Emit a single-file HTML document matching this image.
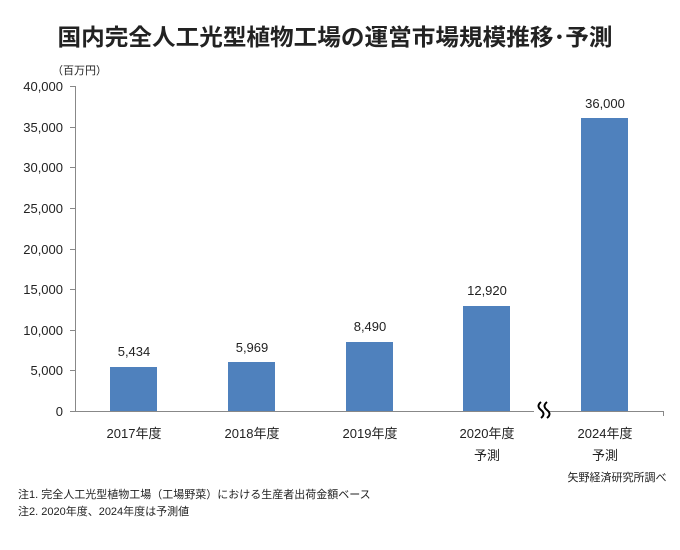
<!DOCTYPE html>
<html><head><meta charset="utf-8"><style>
body{margin:0;background:#fff;width:680px;height:545px;overflow:hidden}
svg text{font-family:"Liberation Sans","Noto Sans CJK JP",sans-serif;fill:#222}
</style></head><body>
<svg width="680" height="545" xmlns="http://www.w3.org/2000/svg">
<text x="335" y="45" text-anchor="middle" font-size="23" font-weight="bold" fill="#000" textLength="555" lengthAdjust="spacingAndGlyphs">国内完全人工光型植物工場の運営市場規模推移･予測</text>
<text x="52" y="74" font-size="11">（百万円）</text>
<g font-size="13" text-anchor="end">
<text x="63" y="91">40,000</text><text x="63" y="132">35,000</text><text x="63" y="172">30,000</text>
<text x="63" y="213">25,000</text><text x="63" y="254">20,000</text><text x="63" y="294">15,000</text>
<text x="63" y="335">10,000</text><text x="63" y="375">5,000</text><text x="63" y="416">0</text>
</g>
<g stroke="#888" stroke-width="1">
<line x1="75.5" y1="86" x2="75.5" y2="411"/>
<line x1="70" y1="86.5" x2="75" y2="86.5"/><line x1="70" y1="127.5" x2="75" y2="127.5"/>
<line x1="70" y1="167.5" x2="75" y2="167.5"/><line x1="70" y1="208.5" x2="75" y2="208.5"/>
<line x1="70" y1="249.5" x2="75" y2="249.5"/><line x1="70" y1="289.5" x2="75" y2="289.5"/>
<line x1="70" y1="330.5" x2="75" y2="330.5"/><line x1="70" y1="370.5" x2="75" y2="370.5"/>
<line x1="70" y1="411.5" x2="663" y2="411.5"/>
<line x1="663.5" y1="411" x2="663.5" y2="416"/>
</g>
<g fill="#4f81bd">
<rect x="110" y="367" width="47" height="44"/>
<rect x="228" y="362" width="47" height="49"/>
<rect x="346" y="342" width="47" height="69"/>
<rect x="463" y="306" width="47" height="105"/>
<rect x="581" y="118" width="47" height="293"/>
</g>
<g font-size="13" text-anchor="middle">
<text x="134" y="356">5,434</text><text x="252" y="352">5,969</text>
<text x="370" y="331">8,490</text><text x="487" y="295">12,920</text>
<text x="605" y="108">36,000</text>
<text x="134" y="438">2017年度</text><text x="252" y="438">2018年度</text>
<text x="370" y="438">2019年度</text><text x="487" y="438">2020年度</text>
<text x="605" y="438">2024年度</text>
<text x="487" y="460">予測</text><text x="605" y="460">予測</text>
<text x="617" y="481" font-size="11">矢野経済研究所調べ</text>
</g>
<rect x="534" y="403" width="14" height="16" fill="#fff"/>
<path d="M541 402 q-5 4 0 8 q5 4 0 8 M547 402 q-5 4 0 8 q5 4 0 8" stroke="#000" stroke-width="2" fill="none"/>
<text x="18" y="498" font-size="11">注1.  完全人工光型植物工場（工場野菜）における生産者出荷金額ベース</text>
<text x="18" y="515" font-size="11">注2.  2020年度、2024年度は予測値</text>
</svg>
</body></html>
